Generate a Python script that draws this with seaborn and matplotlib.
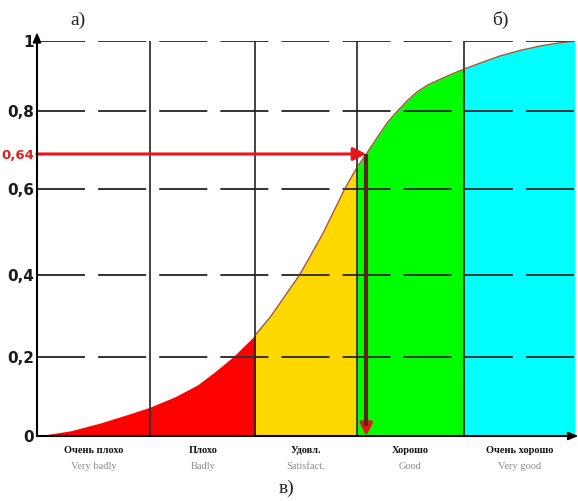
import numpy as np
import pandas as pd
import matplotlib
matplotlib.use("Agg")
import matplotlib.pyplot as plt
import seaborn as sns

# ---- data -------------------------------------------------------------
# cumulative curve (grade score on x, probability on y)
curve_x = [0, 0.31, 0.59, 0.86, 1.05, 1.28, 1.49, 1.65, 1.82, 2.03, 2.17, 2.44,
           2.54, 2.66, 2.76, 2.86, 2.97, 3.06, 3.19, 3.26, 3.35, 3.44, 3.53, 3.63,
           3.75, 3.86, 3.97, 4.12, 4.30, 4.49, 4.68, 4.84, 5.0]
curve_y = [0, 0.013, 0.033, 0.056, 0.073, 0.099, 0.129, 0.162, 0.2, 0.254, 0.298, 0.4,
           0.444, 0.498, 0.549, 0.6, 0.624, 0.64, 0.718, 0.759, 0.8, 0.829, 0.854, 0.874,
           0.891, 0.906, 0.92, 0.937, 0.957, 0.973, 0.986, 0.994, 1.0]

# grade zones
zone_edges = [0, 1.05, 2.03, 2.97, 3.97, 5.0]
zone_colors = ["#ff0000", "#ff0000", "#ffd800", "#00ff00", "#00ffff"]
zone_ru = ["Очень плохо", "Плохо", "Удовл.", "Хорошо", "Очень хорошо"]
zone_en = ["Very badly", "Badly", "Satisfact.", "Good", "Very good"]

# horizontal reference levels and y tick labels
grid_levels = [0.2, 0.4, 0.6, 0.8, 1.0]
ytick_values = [0, 0.2, 0.4, 0.6, 0.64, 0.8, 1.0]
ytick_labels = ["0", "0,2", "0,4", "0,6", "0,64", "0,8", "1"]

# marked point on the curve
mark_x = 3.06
mark_y = 0.64

df = pd.DataFrame({"score": curve_x, "prob": curve_y})

# ---- style ------------------------------------------------------------
sns.set_theme(style="white")
plt.rcParams["font.family"] = ["DejaVu Sans"]
plt.rcParams["lines.scale_dashes"] = False

W, H = 578, 501
fig = plt.figure(figsize=(W / 100, H / 100), dpi=100)
ax = fig.add_axes([37 / W, (H - 436) / H, 538 / W, 395 / H])

# the vertical axis is drawn with uneven spacing between its levels
knot_v = np.array([0, 0.2, 0.4, 0.6, 0.64, 0.8, 1.0])
knot_u = np.array([0, 79, 161, 247, 282, 325, 395], dtype=float)


def fwd(v):
    v = np.asarray(v, dtype=float)
    out = np.interp(v, knot_v, knot_u)
    out = np.where(v < 0, v * 395.0, out)
    out = np.where(v > 1, 395.0 + (v - 1) * 350.0, out)
    return out


def inv(u):
    u = np.asarray(u, dtype=float)
    out = np.interp(u, knot_u, knot_v)
    out = np.where(u < 0, u / 395.0, out)
    out = np.where(u > 395, 1 + (u - 395.0) / 350.0, out)
    return out


ax.set_yscale("function", functions=(fwd, inv))
ax.set_xlim(0, 5)
ax.set_ylim(0, 1.0)

# ---- coloured zones under the curve ----------------------------------
xs = np.array(curve_x)
ys = np.array(curve_y)
for i, col in enumerate(zone_colors):
    a, b = zone_edges[i], zone_edges[i + 1]
    m = (xs >= a - 1e-9) & (xs <= b + 1e-9)
    ax.fill_between(xs[m], 0, ys[m], color=col, linewidth=0, zorder=1)

# curve outline over the upper zones
upper = df[df["score"] >= zone_edges[2]]
sns.lineplot(data=upper, x="score", y="prob", ax=ax, color="#8a3a14",
             linewidth=1.0, alpha=0.85, zorder=3, legend=False)

# dashed horizontal levels
for lv in grid_levels:
    ax.axhline(lv, color="#333333", linewidth=1.4,
               linestyle=(0, (34.6, 9.4)), zorder=2.5)

# zone borders
for e in zone_edges[1:-1]:
    ax.plot([e, e], [0, 1.0], color="#222222", linewidth=1.2, zorder=2.6)

# ---- marked value arrows ---------------------------------------------
ax.annotate("", xy=(mark_x, mark_y), xytext=(0, mark_y),
            arrowprops=dict(arrowstyle="-|>,head_length=0.7,head_width=0.35",
                            color="#e8141c", lw=2.2, shrinkA=0, shrinkB=0,
                            mutation_scale=11),
            zorder=5, annotation_clip=False)
ax.annotate("", xy=(mark_x, 0), xytext=(mark_x, 0.05),
            arrowprops=dict(arrowstyle="-|>,head_length=0.6,head_width=0.3",
                            color="#e8141c", lw=2.5, shrinkA=0, shrinkB=0,
                            mutation_scale=12),
            zorder=5)
ax.plot([mark_x, mark_x], [mark_y, 0.026], color="#5c2414", linewidth=3.0,
        zorder=6, solid_capstyle="butt")

# ---- axes -------------------------------------------------------------
for s in ["top", "right"]:
    ax.spines[s].set_visible(False)
for s in ["left", "bottom"]:
    ax.spines[s].set_color("black")
    ax.spines[s].set_linewidth(1.5)
    ax.spines[s].set_zorder(7)

ax.annotate("", xy=(0, 1.022), xytext=(0, 0.99), xycoords="axes fraction",
            arrowprops=dict(arrowstyle="-|>,head_length=0.6,head_width=0.25",
                            color="black", lw=1.2, shrinkA=0, shrinkB=0,
                            mutation_scale=10), annotation_clip=False)
ax.annotate("", xy=(1.006, 0), xytext=(0.98, 0), xycoords="axes fraction",
            arrowprops=dict(arrowstyle="-|>,head_length=0.6,head_width=0.25",
                            color="black", lw=1.2, shrinkA=0, shrinkB=0,
                            mutation_scale=10), annotation_clip=False)

ax.set_xticks([])
ax.set_yticks(ytick_values)
ax.set_yticklabels(ytick_labels)
ax.tick_params(axis="y", length=0, pad=2)
for lab in ax.get_yticklabels():
    lab.set_fontweight("bold")
    lab.set_fontsize(11)
    lab.set_color("#1a1a1a")
red_lab = ax.get_yticklabels()[ytick_values.index(0.64)]
red_lab.set_color("#e0201c")
red_lab.set_fontsize(9.5)
ax.set_xlabel("")
ax.set_ylabel("")

# zone captions
for i in range(len(zone_ru)):
    cx = (zone_edges[i] + zone_edges[i + 1]) / 2
    ax.text(cx, -0.036, zone_ru[i], transform=ax.get_xaxis_transform(),
            ha="center", va="center", fontsize=7.5, fontweight="bold",
            family="Liberation Serif", color="#111111")
    ax.text(cx, -0.076, zone_en[i], transform=ax.get_xaxis_transform(),
            ha="center", va="center", fontsize=7.5,
            family="Liberation Serif", color="#8c8c8c")

# panel letters
fig.text(78 / W, 1 - 20 / H, "а)", ha="center", va="center",
         fontsize=14, family="Liberation Serif")
fig.text(500 / W, 1 - 20 / H, "б)", ha="center", va="center",
         fontsize=14, family="Liberation Serif")
fig.text(287 / W, 1 - 488 / H, "в)", ha="center", va="center",
         fontsize=14, family="Liberation Serif")

fig.savefig("out.png", dpi=100)
